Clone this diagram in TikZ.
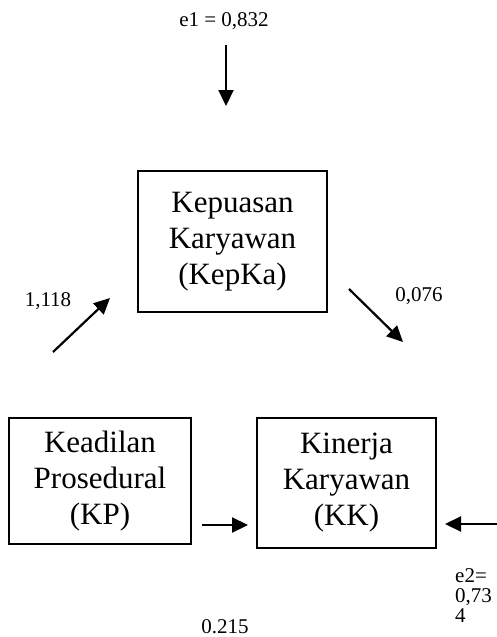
\documentclass[tikz,border=0pt]{standalone}
\usepackage{fontspec}
\setmainfont{Liberation Serif}
\usetikzlibrary{arrows.meta, positioning}

\begin{document}
\begin{tikzpicture}[x=1pt, y=-1pt,
    var/.style={draw, line width=1.3pt, inner sep=0pt, align=center, font=\fontsize{31}{36}\selectfont},
    val/.style={inner sep=0pt, font=\fontsize{21}{20}\selectfont},
    path/.style={line width=2.2pt, -{Triangle[length=16pt, width=15pt]}}]
    \useasboundingbox (0,0) rectangle (497,637);

    \node[var, minimum width=189pt, minimum height=141pt] (KepKa) at (232.5, 241.5) {Kepuasan\\Karyawan\\(KepKa)};
    \node[var, minimum width=182pt, minimum height=126pt] (KP) at (100, 481) {Keadilan\\Prosedural\\(KP)};
    \node[var, minimum width=179pt, minimum height=130pt] (KK) at (346.5, 483) {Kinerja\\Karyawan\\(KK)};

    \node[val, anchor=base] (e1) at (224, 27) {e1 = 0,832};
    \node[val, anchor=base] (b1) at (48, 306) {1,118};
    \node[val, anchor=base] (b2) at (419, 301) {0,076};
    \node[val, anchor=base] (b3) at (225, 633) {0.215};
    \node[val, anchor=north west, align=left] (e2) at (455, 568) {e2=\\0,73\\4};

    \coordinate (e1s) at (226, 45);
    \coordinate (e1t) at (226, 106);
    \coordinate (b1s) at (53, 352);
    \coordinate (b1t) at (110, 298);
    \coordinate (b2s) at (349, 289);
    \coordinate (b2t) at (403, 342);
    \coordinate (b3s) at (202, 525);
    \coordinate (b3t) at (248, 525);
    \coordinate (e2s) at (497, 524);
    \coordinate (e2t) at (445, 524);

    \draw[path] (e1s) -- (e1t);
    \draw[path] (b1s) -- (b1t);
    \draw[path] (b2s) -- (b2t);
    \draw[path] (b3s) -- (b3t);
    \draw[path] (e2s) -- (e2t);
\end{tikzpicture}
\end{document}
